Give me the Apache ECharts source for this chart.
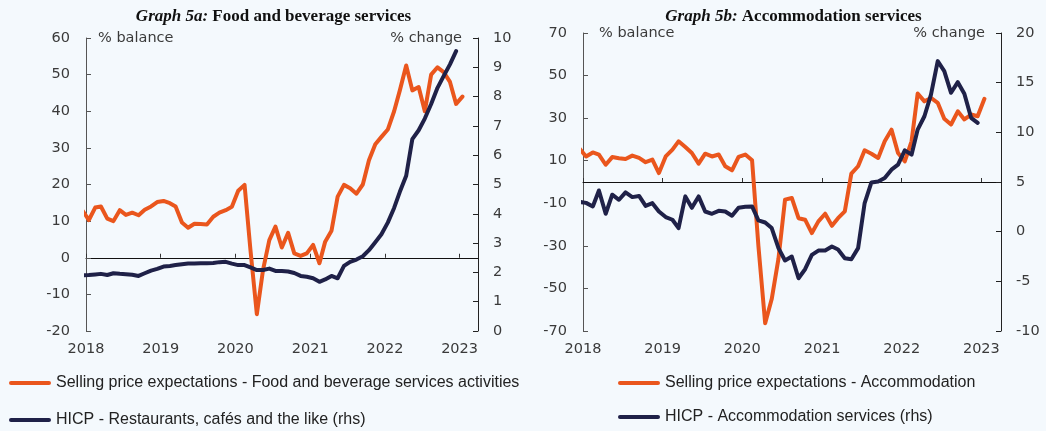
<!DOCTYPE html>
<html>
<head>
<meta charset="utf-8">
<script src="https://cdn.jsdelivr.net/npm/echarts@6/dist/echarts.min.js"></script>
<style>
	html, body { margin: 0; padding: 0; background: #F4F9FD; }
	#chart { width: 1046px; height: 431px; }
</style>
</head>
<body>
<div id="chart"></div>
<script>
// monthly observations; the first value of every series is Dec 2017 (clipped at the axis)
const FIRST_YEAR = 2017;
const FIRST_MONTH = 12;
const YEARS = [2018, 2019, 2020, 2021, 2022, 2023];
const BALANCE_TICKS_B = [-70, -50, -30, -10, 10, 30, 50, 70];

const foodExpectations = [
	12.9, 10.3, 13.7, 14, 10.7, 10, 13, 11.7, 12.3, 11.6, 13.1, 14, 15.2,
	15.5, 14.9, 14, 9.6, 8.2, 9.3, 9.2, 9.1, 11.2, 12.3, 13, 13.9,
	18.3, 19.9, 2, -15.4, -3.4, 4.8, 8.5, 2.8, 6.8, 1.2, 0.5, 1.2,
	3.5, -1.5, 4.4, 7.4, 16.7, 19.9, 19, 17.5, 20, 26.6, 31, 33,
	35, 40, 45.7, 52.5, 45.7, 46.6, 40, 50, 52, 50.7, 48, 42, 44,
];
const foodHicp = [
	1.9, 1.91, 1.93, 1.95, 1.91, 1.97, 1.95, 1.94, 1.92, 1.88, 1.97, 2.06, 2.12,
	2.2, 2.22, 2.25, 2.28, 2.3, 2.3, 2.31, 2.31, 2.32, 2.35, 2.36, 2.3,
	2.25, 2.25, 2.17, 2.08, 2.08, 2.13, 2.05, 2.05, 2.03, 1.98, 1.88, 1.85,
	1.8, 1.68, 1.76, 1.88, 1.8, 2.22, 2.36, 2.44, 2.55, 2.76, 3.03, 3.3,
	3.7, 4.2, 4.75, 5.3, 6.55, 6.85, 7.25, 7.75, 8.3, 8.7, 9.1, 9.55,
];
const accomExpectations = [
	15.8, 12, 13.9, 12.9, 8.1, 11.7, 11.2, 10.8, 12.4, 11.3, 9.3, 10.5, 4.2,
	12, 15.2, 19.1, 16.4, 13.6, 8.6, 13.3, 12, 12.9, 7.4, 5.5, 11.8,
	12.9, 10.2, -30, -66.4, -55, -36, -8.3, -7.5, -17, -17.7, -24, -18.5,
	-14.9, -20.6, -17, -13.8, 3.9, 7.4, 14.9, 13.3, 11.3, 19.1, 24.6, 13.6,
	9.7, 19.1, 41.6, 37.9, 39.5, 37.2, 29.7, 27, 33.2, 29.4, 31.7, 30.9, 39.1,
];
const accomHicp = [
	3.0, 2.9, 2.54, 4.15, 1.8, 3.72, 3.21, 3.95, 3.48, 3.6, 2.6, 2.87, 2.03,
	1.47, 1.2, 0.36, 3.55, 2.4, 3.55, 2.03, 1.8, 2.1, 2.03, 1.6, 2.4,
	2.5, 2.54, 1.13, 0.92, 0.36, -1.66, -2.9, -2.5, -4.69, -3.78, -2.34, -1.9,
	-1.9, -1.5, -1.8, -2.67, -2.77, -1.66, 2.88, 4.96, 5.06, 5.4, 6.24, 6.74,
	8.19, 7.75, 10.28, 11.62, 13.8, 17.17, 16.16, 13.98, 15.05, 13.88, 11.46, 10.95,
];

const NAME_FOOD_EXP = "Selling price expectations - Food and beverage services activities";
const NAME_FOOD_HICP = "HICP - Restaurants, cafés and the like (rhs)";
const NAME_ACC_EXP = "Selling price expectations - Accommodation";
const NAME_ACC_HICP = "HICP - Accommodation services (rhs)";

const ORANGE = "#EA561D";
const NAVY = "#1F2148";
const TEXT = "#3a3a3a";
const FONT = "DejaVu Sans";
const LABEL_SIZE = 14.5;

// mid-month position of observation i
function monthTime(i) {
	return new Date(FIRST_YEAR, FIRST_MONTH - 1 + i, 15).getTime();
}
function toPairs(values) {
	return values.map((v, i) => [monthTime(i), v]);
}

const yearTicks = YEARS.map((y) => new Date(y, 0, 1).getTime());
const X_MIN = new Date(2018, 0, 1).getTime();
const X_MAX = new Date(2023, 3, 1).getTime();

const labelStyle = { color: TEXT, fontFamily: FONT, fontSize: LABEL_SIZE };

// the year axis is a plain value axis over timestamps, ticks only at 1 January
function xAxes(gridIndex) {
	return [
		{
			type: "value",
			gridIndex,
			position: "bottom",
			min: X_MIN,
			max: X_MAX,
			axisLine: { show: true, onZero: true, lineStyle: { color: "#111", width: 1 } },
			axisTick: { show: true, inside: true, length: 4, customValues: yearTicks, lineStyle: { color: "#333" } },
			axisLabel: { show: false },
			splitLine: { show: false },
		},
		{
			type: "value",
			gridIndex,
			position: "bottom",
			min: X_MIN,
			max: X_MAX,
			axisLine: { show: false, onZero: false },
			axisTick: { show: false },
			axisLabel: {
				...labelStyle,
				margin: 11,
				customValues: yearTicks,
				formatter: (v) => String(new Date(v).getFullYear()),
			},
			splitLine: { show: false },
		},
	];
}

function yAxis(gridIndex, side, opts) {
	const left = side === "left";
	const lineColor = left ? "#555" : "#222";
	return {
		type: "value",
		gridIndex,
		position: side,
		splitLine: { show: false },
		axisLine: { show: true, onZero: false, lineStyle: { color: lineColor } },
		axisTick: { show: true, inside: true, length: 5, lineStyle: { color: lineColor } },
		axisLabel: { ...labelStyle, margin: left ? 16 : 15 },
		nameLocation: "end",
		nameGap: 0,
		nameMoveOverlap: false,
		nameTextStyle: {
			...labelStyle,
			align: left ? "left" : "right",
			verticalAlign: "middle",
			padding: left ? [0, 0, 0, opts.namePad] : [0, 16, 0, 0],
		},
		...opts.axis,
	};
}

function lineSeries(name, values, color, xAxisIndex, yAxisIndex) {
	return {
		type: "line",
		name,
		xAxisIndex,
		yAxisIndex,
		data: toPairs(values),
		symbol: "none",
		showSymbol: false,
		lineStyle: { color, width: 4, cap: "round", join: "round" },
		itemStyle: { color },
		emphasis: { disabled: true },
	};
}

function title(center, label, subject) {
	return {
		text: `{i|${label}} {b|${subject}}`,
		left: center - 5,
		top: 3,
		textAlign: "center",
		textStyle: {
			fontFamily: "Liberation Serif",
			fontSize: 17,
			color: "#111",
			rich: {
				i: { fontFamily: "Liberation Serif", fontSize: 17, fontStyle: "italic", color: "#111" },
				b: { fontFamily: "Liberation Serif", fontSize: 17, fontWeight: "bold", color: "#111" },
			},
		},
	};
}

function legend(left, gap, names) {
	return {
		orient: "vertical",
		left,
		top: 375,
		padding: 0,
		itemGap: gap,
		itemWidth: 42,
		itemHeight: 4,
		selectedMode: false,
		icon: "path://M2,0H40A2,2,0,0,1,40,4H2A2,2,0,0,1,2,0Z",
		data: names,
		textStyle: {
			color: "#222",
			fontFamily: "Liberation Sans",
			fontSize: 16,
		},
	};
}

const chart = echarts.init(document.getElementById("chart"), null, { renderer: "canvas" });

chart.setOption({
	animation: false,
	backgroundColor: "#F4F9FD",
	title: [
		title(273.5, "Graph 5a:", "Food and beverage services"),
		title(793.5, "Graph 5b:", "Accommodation services"),
	],
	legend: [
		legend(9, 21, [NAME_FOOD_EXP, NAME_FOOD_HICP]),
		legend(618, 18, [NAME_ACC_EXP, NAME_ACC_HICP]),
	],
	grid: [
		{ left: 86, right: 568, top: 38, bottom: 100, outerBoundsMode: "none", containLabel: false },
		{ left: 583, right: 45, top: 33, bottom: 100, outerBoundsMode: "none", containLabel: false },
	],
	xAxis: [...xAxes(0), ...xAxes(1)],
	yAxis: [
		yAxis(0, "left", { namePad: 12, axis: { min: -20, max: 60, interval: 10, name: "% balance" } }),
		yAxis(0, "right", { axis: { min: 0, max: 10, interval: 1, name: "% change" } }),
		yAxis(1, "left", {
			namePad: 16,
			axis: {
				min: -70,
				max: 70,
				name: "% balance",
				axisTick: { show: true, inside: true, length: 5, customValues: BALANCE_TICKS_B, lineStyle: { color: "#555" } },
				axisLabel: { ...labelStyle, margin: 16, customValues: BALANCE_TICKS_B },
			},
		}),
		yAxis(1, "right", { axis: { min: -10, max: 20, interval: 5, name: "% change" } }),
	],
	series: [
		lineSeries(NAME_FOOD_EXP, foodExpectations, ORANGE, 0, 0),
		lineSeries(NAME_FOOD_HICP, foodHicp, NAVY, 0, 1),
		lineSeries(NAME_ACC_EXP, accomExpectations, ORANGE, 2, 2),
		lineSeries(NAME_ACC_HICP, accomHicp, NAVY, 2, 3),
	],
});
</script>
</body>
</html>
